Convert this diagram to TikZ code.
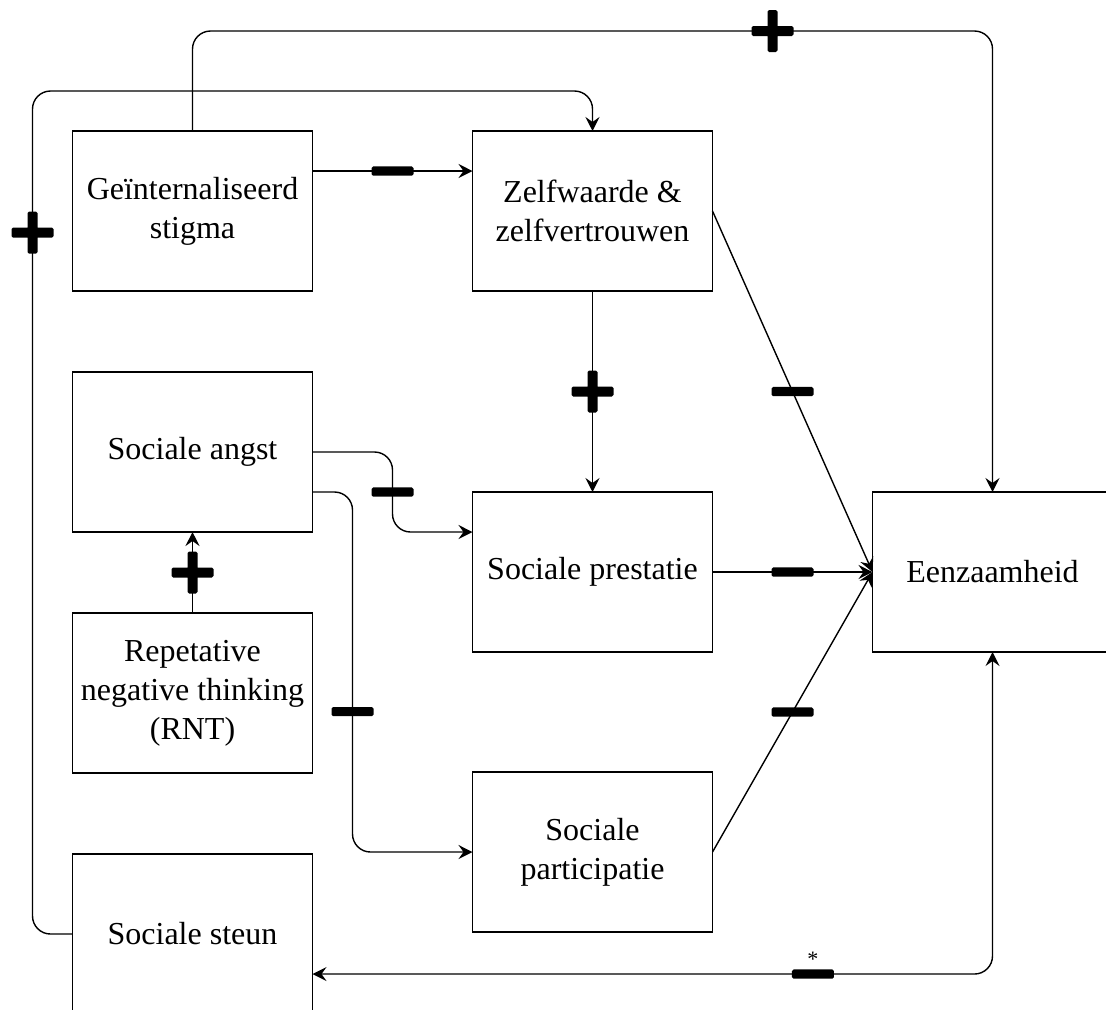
\documentclass[tikz,border=0pt]{standalone}
\usepackage{fontspec}
\setmainfont{Liberation Serif}
\usetikzlibrary{arrows.meta,positioning,calc}

\begin{document}
\begin{tikzpicture}[
  node distance=40.5pt and 80pt,
  factor/.style={rectangle, draw, line width=0.75pt, minimum width=120pt,
    minimum height=80pt, inner sep=0pt, outer sep=0pt, align=center,
    font=\fontsize{16}{19.5}\selectfont},
  arr/.style={-{Stealth[length=7pt, width=7pt, inset=2.5pt]}, line width=0.7pt,
    rounded corners=9pt},
  biarr/.style={arr, {Stealth[length=7pt, width=7pt, inset=2.5pt]}-{Stealth[length=7pt, width=7pt, inset=2.5pt]}},
  minusmark/.pic={\fill[rounded corners=0.8pt] (-10.5pt,-2.3pt) rectangle (10.5pt,2.3pt);},
  plusmark/.pic={\fill[rounded corners=0.8pt] (-10.5pt,-2.5pt) rectangle (10.5pt,2.5pt)
    (-2.5pt,-10.5pt) rectangle (2.5pt,10.5pt);}
]
  \useasboundingbox (0,0) rectangle (553pt,-504.5pt);

  % Left column
  \node[factor] (stigma) at (96.25pt,-105.5pt) {Geïnternaliseerd\\stigma};
  \node[factor, below=of stigma] (angst) {Sociale angst};
  \node[factor, below=of angst] (rnt) {Repetative\\negative thinking\\(RNT)};
  \node[factor, below=of rnt] (steun) {Sociale steun};

  % Middle column
  \node[factor, right=of stigma] (zelf) {Zelfwaarde \&\\zelfvertrouwen};
  \node[factor, below=100.5pt of zelf] (prestatie) {Sociale prestatie};
  \node[factor, below=60pt of prestatie] (participatie) {Sociale\\participatie};

  % Outcome
  \node[factor, right=of prestatie] (eenz) {Eenzaamheid};

  % Straight arrows
  \draw[arr] ([yshift=20pt]stigma.east) -- pic[pos=0.5]{minusmark} ([yshift=20pt]zelf.west);
  \draw[arr] (zelf) -- pic[pos=0.5]{plusmark} (prestatie);
  \draw[arr] (rnt) -- pic[pos=0.5]{plusmark} (angst);
  \foreach \src in {zelf, prestatie, participatie} {
    \draw[arr] (\src.east) -- pic[pos=0.5]{minusmark} (eenz.west);
  }

  % Routed arrows
  \draw[arr] (angst.east) -- ++(40pt,0) |- pic[pos=0.25]{minusmark} ([yshift=20pt]prestatie.west);
  \draw[arr] ([yshift=-20pt]angst.east) -- ++(20pt,0) |- pic[pos=0.305]{minusmark} (participatie.west);
  \draw[arr] (stigma.north) -- ++(0,50pt) -| pic[pos=0.3625]{plusmark} (eenz.north);
  \draw[arr] (steun.west) -- ++(-20pt,0) |- pic[pos=0.416]{plusmark} ([yshift=20pt]zelf.north) -- (zelf.north);
  \draw[biarr] ([yshift=-20pt]steun.east) -| pic[pos=0.368]{minusmark}
    node[pos=0.368, above=3.4pt, inner sep=0pt, font=\fontsize{11}{11}\selectfont] (star) {*} (eenz.south);
\end{tikzpicture}
\end{document}
